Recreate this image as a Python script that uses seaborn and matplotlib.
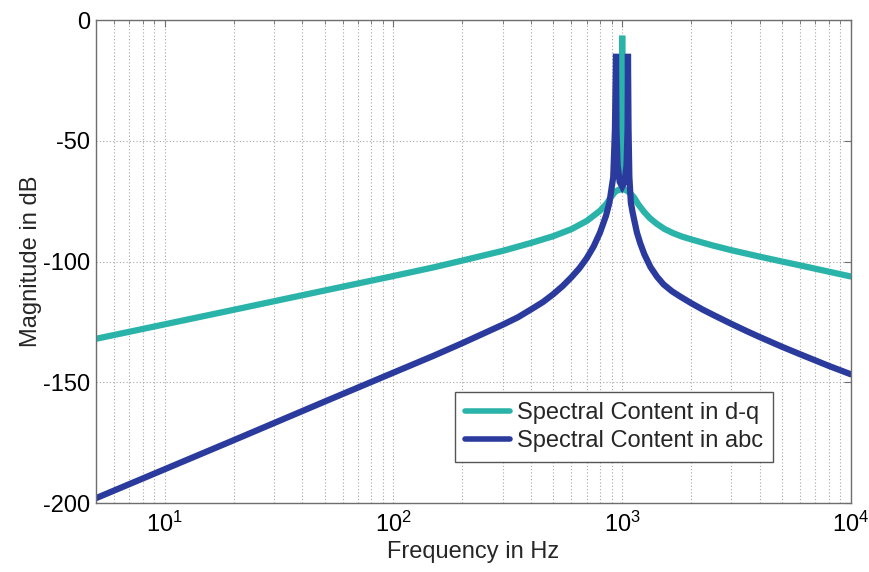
import matplotlib
matplotlib.use("Agg")
import matplotlib.pyplot as plt
import pandas as pd
import seaborn as sns

# Spectrum of the d-q quantities (Hz, dB)
dq_freq = [5, 10, 20, 50, 100, 150, 200, 300, 400, 500, 600, 700, 800, 850,
           880, 900, 930, 960, 990, 997, 1000, 1003, 1010, 1040, 1060, 1091,
           1127, 1180, 1246, 1320, 1413, 1530, 1675, 1830, 2000, 2250, 2500,
           3000, 4000, 5000, 6000, 8000, 10000]
dq_mag = [-132, -126, -120, -112, -106, -102.4, -99.6, -95.6, -92.3, -89.5,
          -86.6, -83.2, -79, -76.3, -74.3, -72.9, -71.2, -70.4, -70, -70,
          -6.5, -70, -70, -70.4, -71, -72, -73.5, -76.5, -79.4, -82, -84.3,
          -86.5, -88.3, -89.7, -90.8, -92.2, -93.4, -95.3, -98, -100, -101.6,
          -104.2, -106.2]

# Spectrum of the abc quantities (Hz, dB)
abc_freq = [5, 10, 20, 50, 100, 150, 200, 300, 350, 400, 450, 500, 550, 600,
            650, 700, 750, 800, 850, 880, 914, 930, 940, 944, 955, 975, 1000,
            1025, 1045, 1056, 1060, 1066, 1075, 1091, 1110, 1127, 1160, 1200,
            1250, 1330, 1420, 1518, 1650, 1800, 2000, 2250, 2500, 3000, 3500,
            4000, 5000, 6000, 8000, 10000]
abc_mag = [-198, -186, -174, -158, -146, -139, -133.8, -126.2, -123.1, -119.8,
           -116.8, -113.5, -110.1, -106.5, -102.8, -98.6, -93.8, -88, -81,
           -75.5, -65, -45, -14, -45, -60, -67, -69, -67, -60, -45, -14, -45,
           -65, -75.5, -79.5, -82.5, -88, -92.5, -97, -102.3, -106.3, -109.5,
           -112.3, -114.6, -117.2, -119.9, -122.1, -125.8, -128.8, -131.3,
           -135.3, -138.4, -143.2, -146.7]

series_names = ["Spectral Content in d-q", "Spectral Content in abc"]
series_colors = ["#2ab3a9", "#2b3b9d"]

df = pd.concat([
    pd.DataFrame({"freq": dq_freq, "mag": dq_mag, "series": series_names[0]}),
    pd.DataFrame({"freq": abc_freq, "mag": abc_mag, "series": series_names[1]}),
], ignore_index=True)

sns.set_style("white")
plt.rcParams["font.family"] = ["Liberation Sans", "DejaVu Sans"]
plt.rcParams["axes.unicode_minus"] = False
plt.rcParams["mathtext.fontset"] = "custom"
plt.rcParams["mathtext.rm"] = "Liberation Sans"
plt.rcParams["mathtext.it"] = "Liberation Sans"
plt.rcParams["mathtext.default"] = "regular"

fig = plt.figure(figsize=(8.7, 5.72), dpi=100)
ax = fig.add_axes([0.1103, 0.1206, 0.8677, 0.8444])

sns.lineplot(data=df, x="freq", y="mag", hue="series", hue_order=series_names,
             palette=series_colors, estimator=None, linewidth=4.5, ax=ax)
for line in ax.get_lines():
    line.set_solid_joinstyle("miter")

ax.set_xscale("log")
ax.set_xlim(5, 1e4)
ax.set_ylim(-200, 0)
ax.set_yticks([0, -50, -100, -150, -200])
ax.set_xticks([10, 100, 1000, 10000])

grid_kw = dict(color="#a8a8a8", linestyle=(0, (1, 2)), linewidth=0.8)
ax.grid(True, which="both", axis="x", **grid_kw)
ax.grid(True, which="major", axis="y", **grid_kw)
ax.set_axisbelow(True)

for sp in ax.spines.values():
    sp.set_visible(True)
    sp.set_color("#6e6e6e")
    sp.set_linewidth(1.0)

ax.tick_params(which="both", direction="in", top=True, right=True,
               color="#6e6e6e", labelsize=17, labelcolor="black")
ax.tick_params(which="major", length=5, width=0.8)
ax.tick_params(which="minor", length=3, width=0.6)
ax.tick_params(axis="y", pad=4)
ax.tick_params(axis="x", pad=6)

ax.set_xlabel("Frequency in Hz", fontsize=17, labelpad=3)
ax.set_ylabel("Magnitude in dB", fontsize=17, labelpad=1)

handles, labels = ax.get_legend_handles_labels()
leg = ax.legend(handles, labels, loc="lower right",
                bbox_to_anchor=(0.897, 0.085), fontsize=17, frameon=True,
                fancybox=False, framealpha=1, edgecolor="#555555",
                handlelength=1.9, handletextpad=0.3, labelspacing=0.25,
                borderpad=0.42, borderaxespad=0)
leg.get_frame().set_linewidth(1.0)
for line in leg.get_lines():
    line.set_linewidth(4.0)

fig.savefig("out.png", dpi=100)
